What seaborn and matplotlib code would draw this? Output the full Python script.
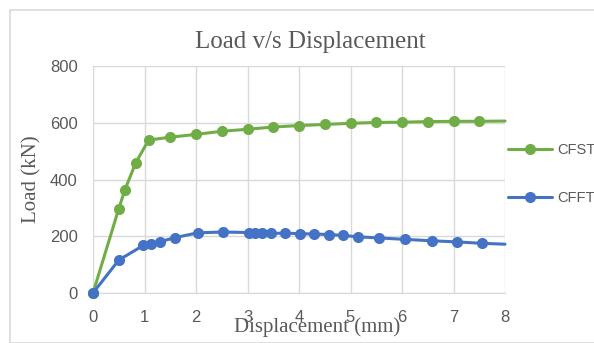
import numpy as np
import pandas as pd
import matplotlib
matplotlib.use("Agg")
import matplotlib.pyplot as plt
import seaborn as sns
from matplotlib.patches import Rectangle

# === DATA ===
cfst_disp = [0, 0.5, 0.62, 0.83, 1.08, 1.5, 2.0, 2.5, 3.0, 3.5, 4.0, 4.5, 5.0, 5.5, 6.0, 6.5, 7.0, 7.5, 8.0]
cfst_load = [0, 297, 364, 459, 539, 549, 559, 570, 577, 585, 590, 594, 598, 601, 602, 604, 605, 605, 606]

cfft_disp = [0, 0.5, 0.98, 1.13, 1.3, 1.59, 2.03, 2.52, 3.02, 3.15, 3.28, 3.45, 3.73, 4.02, 4.3,
             4.58, 4.85, 5.14, 5.56, 6.06, 6.58, 7.07, 7.56, 8.0]
cfft_load = [0, 116, 168, 174, 181, 195, 212, 215, 213, 213, 213, 210, 211, 209, 208,
             206, 203, 198, 194, 189, 184, 180, 175, 172]

GREEN = "#70AD47"
BLUE = "#4472C4"
GREY_TXT = "#595959"

df = pd.concat([
    pd.DataFrame({"Displacement": cfst_disp, "Load": cfst_load, "Series": "CFST"}),
    pd.DataFrame({"Displacement": cfft_disp, "Load": cfft_load, "Series": "CFFT"}),
])

sns.set_style("white")
plt.rcParams["font.family"] = ["Liberation Sans", "DejaVu Sans"]

fig = plt.figure(figsize=(5.94, 3.43), dpi=100)
ax = fig.add_axes([93 / 594, 1 - 293 / 343, 412 / 594, 227 / 343])

# chart area border
fig.patches.append(Rectangle((10 / 594, 0), 1, 1 - 10 / 343, transform=fig.transFigure,
                             fill=False, edgecolor="#d9d9d9", linewidth=1.2, zorder=0))

palette = {"CFST": GREEN, "CFFT": BLUE}
for name, g in df.groupby("Series", sort=False):
    n = len(g)
    sns.lineplot(data=g, x="Displacement", y="Load", ax=ax, color=palette[name],
                 linewidth=2.2, marker="o", markersize=8, markeredgewidth=0,
                 markevery=list(range(n - 1)), label=name, sort=False,
                 estimator=None, clip_on=False, zorder=3)

ax.set_xlim(0, 8)
ax.set_ylim(0, 800)
ax.set_xticks(range(0, 9))
ax.set_yticks(range(0, 801, 200))
ax.grid(True, color="#d9d9d9", linewidth=1)
for s in ["top", "right", "left"]:
    ax.spines[s].set_visible(False)
ax.spines["bottom"].set_color("#d9d9d9")
ax.tick_params(axis="both", length=0, labelsize=12, labelcolor=GREY_TXT)
ax.tick_params(axis="x", pad=12)
ax.tick_params(axis="y", pad=11)

serif = ["Liberation Serif", "DejaVu Serif"]
fig.text(310 / 594, 1 - 42 / 343, "Load v/s Displacement", family=serif, fontsize=18,
         color=GREY_TXT, ha="center", va="center")
ax.set_xlabel("Displacement (mm)", family=serif, fontsize=15, color=GREY_TXT)
ax.xaxis.set_label_coords(0.545, -0.105)
ax.set_ylabel("Load (kN)", family=serif, fontsize=15, color=GREY_TXT)
ax.yaxis.set_label_coords(-0.124, 0.5)

leg = ax.legend(loc="center left", bbox_to_anchor=(508 / 594, 1 - 174 / 343),
                bbox_transform=fig.transFigure, frameon=False, fontsize=10.5,
                handlelength=3.0, labelspacing=2.35, handletextpad=0.35, borderpad=0,
                borderaxespad=0)
for t in leg.get_texts():
    t.set_color(GREY_TXT)

fig.savefig("out.png", dpi=100)
